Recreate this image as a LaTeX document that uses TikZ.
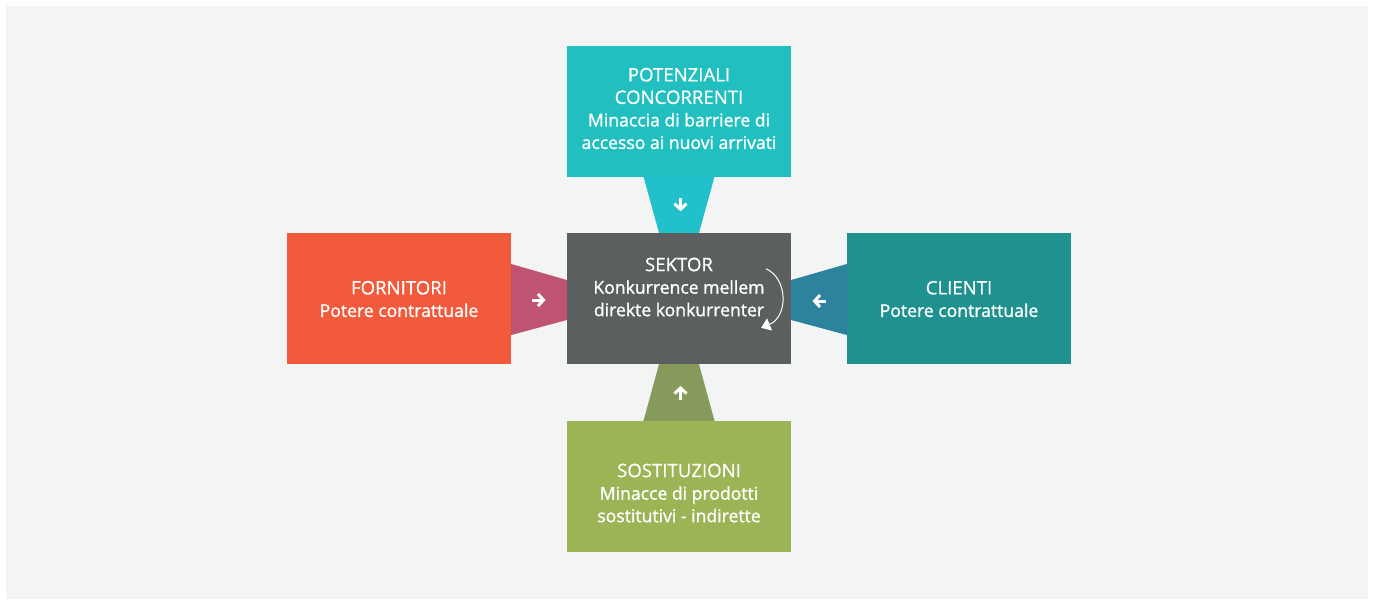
\documentclass[tikz,border=0pt]{standalone}
\usepackage{fontspec}
\setmainfont{Open Sans}
\newfontfamily\headfont[FakeBold=0.5]{Open Sans}
\newfontfamily\bodyfont[FakeBold=1.2]{Open Sans}
\usetikzlibrary{arrows.meta,calc}

\definecolor{panelgray}{HTML}{F3F4F4}
\definecolor{entrantteal}{HTML}{22BFC1}
\definecolor{entrantwedge}{HTML}{22C0CA}
\definecolor{sectorgray}{HTML}{5B5F60}
\definecolor{supplierred}{HTML}{F15A3A}
\definecolor{supplierwedge}{HTML}{BF5472}
\definecolor{buyerteal}{HTML}{1F928F}
\definecolor{buyerwedge}{HTML}{2D829E}
\definecolor{substgreen}{HTML}{9BB456}
\definecolor{substwedge}{HTML}{869A5B}

\newcommand{\forcehead}[1]{{\fontsize{18.6}{22.5}\headfont #1}}

\tikzset{
    force/.style={minimum width=224pt, minimum height=131pt, inner sep=0pt},
    caption/.style={text=white, align=center, inner sep=0pt,
        font=\fontsize{17.6}{22.5}\selectfont\bodyfont},
    push/.style={white, line width=3pt,
        -{Straight Barb[length=5.5pt, width=12pt]}},
}

\begin{document}
\begin{tikzpicture}[
    x=1pt, y=-1pt,
]
    \useasboundingbox (0, 0) rectangle (1375, 600);
    \fill[white] (0, 0) rectangle (1375, 600);
    \fill[panelgray] (6, 6) rectangle (1368, 599);

    % the five forces
    \node[force, fill=entrantteal] (entrants) at (679, 111) {};
    \node[force, fill=sectorgray] (sector) at (679, 298.5) {};
    \node[force, fill=supplierred] (suppliers) at (399, 298.5) {};
    \node[force, fill=buyerteal] (buyers) at (959, 298.5) {};
    \node[force, fill=substgreen] (substitutes) at (679, 486.5) {};

    % wedges into the sector
    \fill[entrantwedge] ($(entrants.south)+(-35.5, 0)$) -- ($(entrants.south)+(35.5, 0)$)
        -- ($(sector.north)+(20, 0)$) -- ($(sector.north)+(-20, 0)$) -- cycle;
    \fill[substwedge] ($(substitutes.north)+(-35.5, 0)$) -- ($(substitutes.north)+(35.5, 0)$)
        -- ($(sector.south)+(20, 0)$) -- ($(sector.south)+(-20, 0)$) -- cycle;
    \fill[supplierwedge] ($(suppliers.east)+(0, -34.5)$) -- ($(suppliers.east)+(0, 36.5)$)
        -- ($(sector.west)+(0, 21.5)$) -- ($(sector.west)+(0, -18.5)$) -- cycle;
    \fill[buyerwedge] ($(buyers.west)+(0, -34.5)$) -- ($(buyers.west)+(0, 36.5)$)
        -- ($(sector.east)+(0, 21.5)$) -- ($(sector.east)+(0, -18.5)$) -- cycle;

    \coordinate (entry-mid) at ($(entrants.south)!0.5!(sector.north)+(1.5, 0)$);
    \coordinate (subst-mid) at ($(substitutes.north)!0.5!(sector.south)+(1.5, 0)$);
    \coordinate (supply-mid) at ($(suppliers.east)!0.5!(sector.west)+(0, 1.5)$);
    \coordinate (buy-mid) at ($(buyers.west)!0.5!(sector.east)+(0, 2.5)$);

    \draw[push] ($(entry-mid)+(0, -7)$) -- ($(entry-mid)+(0, 6.5)$);
    \draw[push] ($(subst-mid)+(0, 7)$) -- ($(subst-mid)+(0, -6.5)$);
    \draw[push] ($(supply-mid)+(-7, 0)$) -- ($(supply-mid)+(6.5, 0)$);
    \draw[push] ($(buy-mid)+(7, 0)$) -- ($(buy-mid)+(-6.5, 0)$);

    % rivalry loop
    \draw[white, line width=1pt, -{Triangle[length=9pt, width=13pt]}]
        ($(sector.north east)+(-25, 36)$)
        .. controls ($(sector.north east)+(-3, 46)$) and ($(sector.north east)+(-3, 84)$)
        .. ($(sector.north east)+(-30, 95)$);

    % captions
    \node[caption] (entrants-text) at (679, 108.5)
        {\forcehead{POTENZIALI}\\\forcehead{CONCORRENTI}\\Minaccia di barriere di\\accesso ai nuovi arrivati};
    \node[caption] (sector-text) at (679, 287)
        {\forcehead{SEKTOR}\\Konkurrence mellem\\direkte konkurrenter};
    \node[caption] (suppliers-text) at (399, 299)
        {\forcehead{FORNITORI}\\Potere contrattuale};
    \node[caption] (buyers-text) at (959, 299)
        {\forcehead{CLIENTI}\\Potere contrattuale};
    \node[caption] (substitutes-text) at (679, 493)
        {\forcehead{SOSTITUZIONI}\\Minacce di prodotti\\sostitutivi - indirette};
\end{tikzpicture}
\end{document}
